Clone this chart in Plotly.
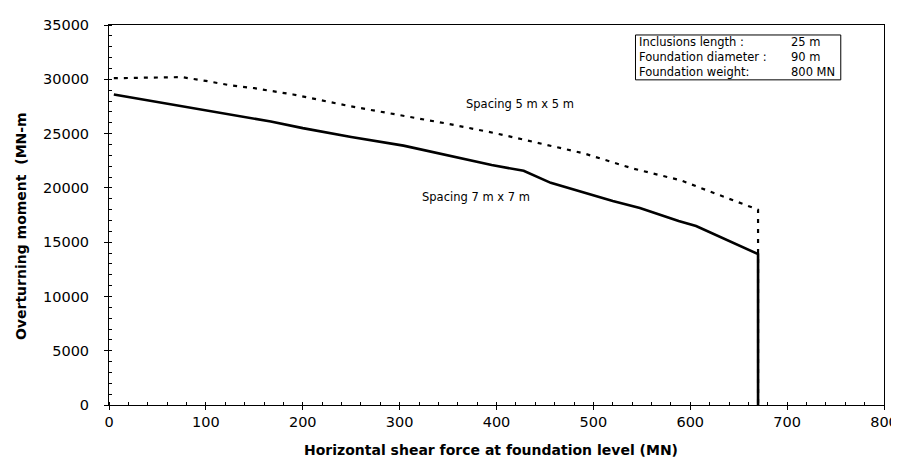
import plotly.graph_objects as go

# Spacing 5 m x 5 m (dashed)
x_5m = [5, 40, 75, 100, 125, 150, 190, 250, 300, 350, 400, 440, 490, 540, 590, 640, 670, 670]
y_5m = [30100, 30150, 30200, 29850, 29450, 29180, 28600, 27500, 26700, 25900, 25010, 24180, 23180, 21800, 20700, 19000, 17990, 0]

# Spacing 7 m x 7 m (solid)
x_7m = [5, 100, 167, 200, 250, 304, 350, 395, 428, 456, 520, 548, 588, 606, 670, 670]
y_7m = [28600, 27150, 26110, 25500, 24690, 23890, 22960, 22100, 21570, 20460, 18800, 18150, 16940, 16480, 13890, 0]

box_labels = ["Inclusions length :", "Foundation diameter :", "Foundation weight:"]
box_values = ["25 m", "90 m", "800 MN"]

FONT = "DejaVu Sans, Verdana, sans-serif"
L, R, T, B = 101, 890, 16, 397
PW, PH = R - L, B - T

fig = go.Figure()
fig.add_trace(go.Scatter(x=x_5m, y=y_5m, mode="lines",
                         line=dict(color="black", width=2.2, dash="4px,6px"),
                         showlegend=False))
fig.add_trace(go.Scatter(x=x_7m, y=y_7m, mode="lines",
                         line=dict(color="black", width=2.6),
                         showlegend=False))

fig.update_layout(
    width=899, height=457,
    margin=dict(l=L, r=899 - R, t=T, b=457 - B),
    paper_bgcolor="white", plot_bgcolor="white",
    font=dict(family=FONT, size=12, color="black"),
)
fig.update_xaxes(range=[0, 800], dtick=100, tick0=0, showgrid=False, zeroline=False,
                 showline=True, linecolor="black", linewidth=1, mirror=True,
                 ticks="outside", ticklen=4, tickcolor="black", ticklabeloverflow="allow",
                 minor=dict(dtick=20, ticks="inside", ticklen=3, tickcolor="black"),
                 tickfont=dict(size=14.5, family=FONT))
fig.update_yaxes(range=[0, 35000], dtick=5000, tick0=0, tickformat="d", showgrid=False, zeroline=False,
                 showline=True, linecolor="black", linewidth=1, mirror=True,
                 ticks="outside", ticklen=4, tickcolor="black", ticklabelstandoff=12,
                 minor=dict(dtick=1000, ticks="inside", ticklen=3, tickcolor="black"),
                 tickfont=dict(size=14.5, family=FONT))

# axis titles
fig.add_annotation(text="<b>Horizontal shear force at foundation level (MN)</b>",
                   xref="paper", yref="paper", x=(490 - L) / PW, y=-(442 - B) / PH,
                   showarrow=False, font=dict(size=14, family=FONT), xanchor="center", yanchor="middle")
fig.add_annotation(text="<b>Overturning moment  (MN-m</b>",
                   xref="paper", yref="paper", x=-(L - 12) / PW, y=(B - 218) / PH,
                   showarrow=False, textangle=-90, font=dict(size=14, family=FONT),
                   xanchor="center", yanchor="middle")

# curve labels
fig.add_annotation(text="Spacing 5 m x 5 m", x=424, y=27700, showarrow=False,
                   font=dict(size=11.5, family=FONT))
fig.add_annotation(text="Spacing 7 m x 7 m", x=379, y=19170, showarrow=False,
                   font=dict(size=11.5, family=FONT))

# info box
fig.add_shape(type="rect", xref="paper", yref="paper",
              x0=(637 - L) / PW, x1=(846 - L) / PW,
              y0=(B - 71) / PH, y1=(B - 26) / PH,
              line=dict(color="black", width=1), fillcolor="white")
box_mid = (26 + 71) / 2
fig.add_annotation(text="<br>".join(box_labels), xref="paper", yref="paper",
                   x=(639 - L) / PW, y=(B - box_mid) / PH, xanchor="left", yanchor="middle",
                   align="left", showarrow=False, font=dict(size=11.5, family=FONT))
fig.add_annotation(text="<br>".join(box_values), xref="paper", yref="paper",
                   x=(793 - L) / PW, y=(B - box_mid) / PH, xanchor="left", yanchor="middle",
                   align="left", showarrow=False, font=dict(size=11.5, family=FONT))

fig.write_html("out.html")
